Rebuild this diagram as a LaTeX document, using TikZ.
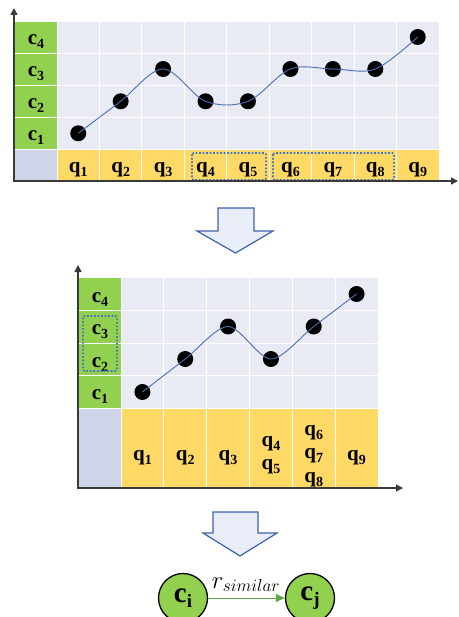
\documentclass[tikz,border=0pt]{standalone}
\usepackage{fontspec}
\setmainfont{Liberation Serif}
\usetikzlibrary{arrows.meta}
\definecolor{gridbg}{HTML}{E8EAF4}
\definecolor{greenc}{HTML}{92D050}
\definecolor{yellowc}{HTML}{FFD966}
\definecolor{cornerc}{HTML}{CFD4E8}
\definecolor{axisc}{HTML}{3A3A3A}
\definecolor{curvec}{HTML}{4A6FB0}
\definecolor{dotbox}{HTML}{4472C4}
\definecolor{arrfill}{HTML}{E9EDF7}
\definecolor{arrline}{HTML}{3F63A6}
\definecolor{edgec}{HTML}{67A444}
\newcommand{\lbl}[2]{{\fontsize{21}{21}\selectfont\bfseries #1\raisebox{-4pt}{\fontsize{14}{14}\selectfont #2}}}
\newcommand{\circlbl}[2]{{\fontsize{29}{29}\selectfont\bfseries #1\raisebox{-5pt}{\fontsize{19}{19}\selectfont #2}}}
\begin{document}
\begin{tikzpicture}[x=1pt,y=-1pt,
  axis/.style={draw=axisc, line width=1.4pt, -{Triangle[length=7pt,width=7pt]}},
  sep/.style={draw=white, line width=1pt},
  dot/.style={circle, fill=black, minimum size=16pt, inner sep=0pt},
  curve/.style={draw=curvec, line width=0.9pt},
  dbox/.style={draw=dotbox, line width=1.7pt, dash pattern=on 1.7pt off 1.8pt, rounded corners=1.5pt},
  lab/.style={anchor=base, inner sep=0pt},
  bigarrow/.style={draw=arrline, fill=arrfill, line width=1.2pt, line join=miter},
  cnode/.style={circle, draw=black, line width=1.3pt, fill=greenc, minimum size=49pt, inner sep=0pt},
  simedge/.style={draw=edgec, line width=1pt, -{Triangle[length=9pt,width=8pt]}}
]
\useasboundingbox (0,0) rectangle (458,617);

% ---------------- top chart ----------------
\def\tw{42.44}
\def\th{31.8}
\fill[gridbg] (57,22) rectangle (439,149);
\fill[greenc] (15,22) rectangle (57,149);
\fill[yellowc] (57,149) rectangle (439,181);
\fill[cornerc] (15,149) rectangle (57,181);
\foreach \i in {1,...,8} \draw[sep] ({57+\i*\tw},22) -- ({57+\i*\tw},181);
\foreach \k in {1,...,4} \draw[sep] (15,{22+\k*\th}) -- (439,{22+\k*\th});
\draw[sep] (57,22) -- (57,181);

\foreach \k in {1,...,4} \node[lab] (tc\k) at (36,{149-(\k-0.5)*\th+7}) {\lbl{c}{\k}};
\foreach \i in {1,...,9} \node[lab] (tq\i) at ({57+(\i-0.5)*\tw},173) {\lbl{q}{\i}};

\draw[dbox] (192,153) rectangle (266,180);
\draw[dbox] (273,153) rectangle (394,180);

\node[dot] (t1) at ({57+0.5*\tw},133.3) {};
\node[dot] (t2) at ({57+1.5*\tw},101.3) {};
\node[dot] (t3) at ({57+2.5*\tw},69) {};
\node[dot] (t4) at ({57+3.5*\tw},101.3) {};
\node[dot] (t5) at ({57+4.5*\tw},101.3) {};
\node[dot] (t6) at ({57+5.5*\tw},69) {};
\node[dot] (t7) at ({57+6.5*\tw},69) {};
\node[dot] (t8) at ({57+7.5*\tw},69) {};
\node[dot] (t9) at ({57+8.5*\tw},37) {};
\draw[curve] plot[smooth, tension=0.55] coordinates {(t1.center) (t2.center) (t3.center) (t4.center) (t5.center) (t6.center) (t7.center) (t8.center) (t9.center)};

\coordinate (tO) at (14,181);
\coordinate (tY) at (14,8);
\coordinate (tX) at (458,181);
\draw[axis] (14,182) -- (tY);
\draw[axis] (13,181) -- (tX);

% ---------------- arrow 1 ----------------
\draw[bigarrow] (218,208) -- (254,208) -- (254,231) -- (273,231) -- (235.5,253) -- (197,231) -- (218,231) -- cycle;

% ---------------- second chart ----------------
\def\bw{42.83}
\def\bh{32.5}
\fill[gridbg] (121,278) rectangle (378,408);
\fill[greenc] (79,278) rectangle (121,408);
\fill[yellowc] (121,408) rectangle (378,488);
\fill[cornerc] (79,408) rectangle (121,488);
\foreach \i in {1,...,5} \draw[sep] ({121+\i*\bw},278) -- ({121+\i*\bw},488);
\foreach \k in {1,...,4} \draw[sep] (79,{278+\k*\bh}) -- (378,{278+\k*\bh});
\draw[sep] (121,278) -- (121,488);

\foreach \k in {1,...,4} \node[lab] (bc\k) at (100,{408-(\k-0.5)*\bh+8}) {\lbl{c}{\k}};
\node[lab] (bq1) at ({121+0.5*\bw},460) {\lbl{q}{1}};
\node[lab] (bq2) at ({121+1.5*\bw},460) {\lbl{q}{2}};
\node[lab] (bq3) at ({121+2.5*\bw},460) {\lbl{q}{3}};
\node[lab] (bq4) at ({121+3.5*\bw},446) {\lbl{q}{4}};
\node[lab] (bq5) at ({121+3.5*\bw},469) {\lbl{q}{5}};
\node[lab] (bq6) at ({121+4.5*\bw},435) {\lbl{q}{6}};
\node[lab] (bq7) at ({121+4.5*\bw},458) {\lbl{q}{7}};
\node[lab] (bq8) at ({121+4.5*\bw},482) {\lbl{q}{8}};
\node[lab] (bq9) at ({121+5.5*\bw},460) {\lbl{q}{9}};

\draw[dbox] (83,316) rectangle (117,371);

\node[dot] (b1) at ({121+0.5*\bw},392) {};
\node[dot] (b2) at ({121+1.5*\bw},359) {};
\node[dot] (b3) at ({121+2.5*\bw},326.5) {};
\node[dot] (b4) at ({121+3.5*\bw},359) {};
\node[dot] (b5) at ({121+4.5*\bw},326.5) {};
\node[dot] (b6) at ({121+5.5*\bw},294) {};
\draw[curve] plot[smooth, tension=0.5] coordinates {(b1.center) (b2.center) (b3.center) (b4.center) (b5.center) (b6.center)};

\coordinate (bY) at (78,265);
\coordinate (bX) at (403,488);
\draw[axis] (78,489) -- (bY);
\draw[axis] (77,488) -- (bX);

% ---------------- arrow 2 ----------------
\draw[bigarrow] (213,512) -- (258,512) -- (258,533) -- (277,533) -- (240,556) -- (203,533) -- (213,533) -- cycle;

% ---------------- relation ----------------
\node[cnode] (ci) at (183,598) {\circlbl{c}{i}};
\node[cnode] (cj) at (310,598) {\circlbl{c}{j}};
\draw[simedge] (ci) -- (cj);
\node[anchor=base, inner sep=0pt] (rlab) at (246,588) {\fontsize{26}{26}\selectfont$r_{similar}$};
\end{tikzpicture}
\end{document}
